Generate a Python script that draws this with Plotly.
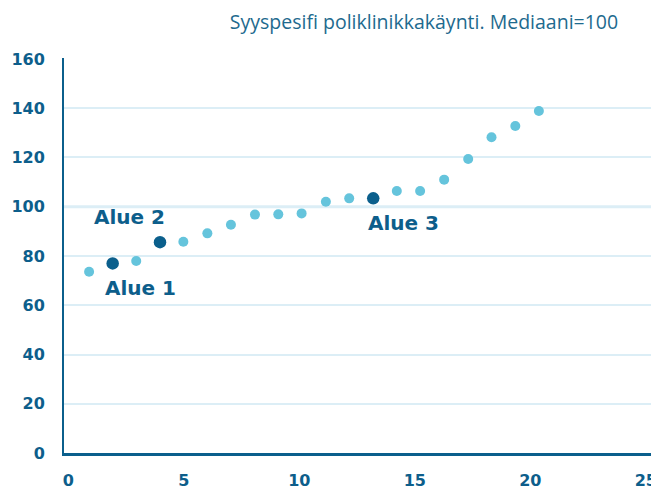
import plotly.graph_objects as go

# Data
x_vals = [0.90, 1.92, 2.94, 3.97, 4.98, 6.02, 7.04, 8.08, 9.09, 10.10,
          11.15, 12.16, 13.20, 14.22, 15.23, 16.27, 17.31, 18.32, 19.35, 20.37]
y_vals = [73.6, 77.0, 78.0, 85.6, 85.8, 89.2, 92.7, 96.8, 96.9, 97.3,
          102.0, 103.4, 103.4, 106.4, 106.4, 111.0, 119.4, 128.2, 132.8, 138.9]
highlight_idx = [1, 3, 12]
highlight_labels = ["Alue 1", "Alue 2", "Alue 3"]
x_ticks = [0, 5, 10, 15, 20, 25]
y_ticks = [0, 20, 40, 60, 80, 100, 120, 140, 160]
title_text = "Syyspesifi poliklinikkakäynti. Mediaani=100"

LIGHT = "#65c4dc"
DARK = "#0b5f8c"
GRID = "#dceef6"
TEXT = "#0d5e8b"

other_idx = [i for i in range(len(x_vals)) if i not in highlight_idx]

fig = go.Figure()
fig.add_trace(go.Scatter(
    x=[x_vals[i] for i in other_idx], y=[y_vals[i] for i in other_idx],
    mode="markers", marker=dict(color=LIGHT, size=10), hoverinfo="skip"))
fig.add_trace(go.Scatter(
    x=[x_vals[i] for i in highlight_idx], y=[y_vals[i] for i in highlight_idx],
    mode="markers", marker=dict(color=DARK, size=12.5), hoverinfo="skip"))

label_shifts = [(28, -25), (-31, 25), (30, -25)]
for i, lab, (dx, dy) in zip(highlight_idx, highlight_labels, label_shifts):
    fig.add_annotation(x=x_vals[i], y=y_vals[i], text=lab, showarrow=False,
                       xshift=dx, yshift=dy,
                       font=dict(family="DejaVu Sans", size=20, color=TEXT, weight="bold"))

fig.add_shape(type="line", xref="paper", x0=0, x1=1, yref="y", y0=100, y1=100,
              line=dict(color=GRID, width=3), layer="below")

tick_font = dict(family="DejaVu Sans", size=16, color=TEXT, weight="bold")

# the page body adds an 8px offset, so the figure is sized to the remaining window
fig.update_layout(
    width=651, height=482,
    margin=dict(l=56, r=0, t=50, b=37),
    paper_bgcolor="white", plot_bgcolor="white",
    showlegend=False,
    title=dict(text=title_text, xref="container", x=0.639, xanchor="center",
               yref="container", y=0.971, yanchor="middle",
               font=dict(family="Open Sans", size=19.5, color="#1e6a8e")),
    xaxis=dict(range=[-0.186, 25.57], tickvals=x_ticks, showgrid=False, zeroline=False,
               showline=True, linecolor=DARK, linewidth=3, automargin=False,
               tickfont=tick_font, ticklabelstandoff=11),
    yaxis=dict(range=[0, 160.4], tickvals=y_ticks, showgrid=True, gridcolor=GRID, gridwidth=2,
               zeroline=False, showline=True, linecolor=DARK, linewidth=2, automargin=False,
               tickfont=tick_font, ticklabelstandoff=14),
)

fig.write_html("out.html")
